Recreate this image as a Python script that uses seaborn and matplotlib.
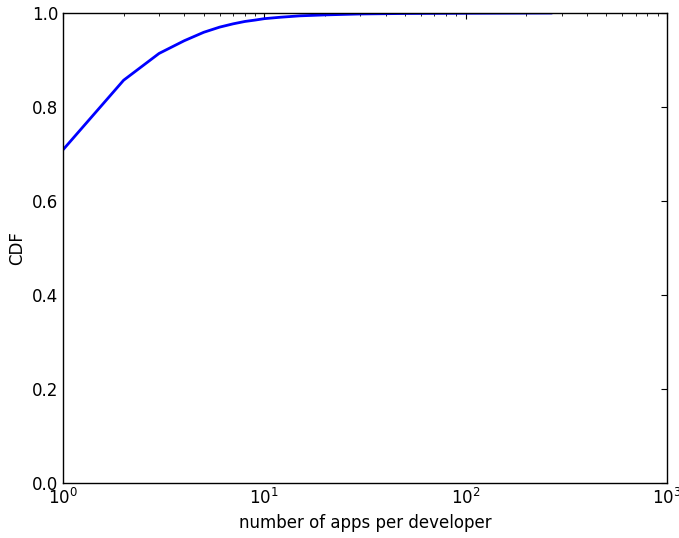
import matplotlib
matplotlib.use("Agg")
import matplotlib.pyplot as plt
import seaborn as sns
import pandas as pd
from matplotlib.ticker import LogLocator

apps = [1, 2, 3, 4, 5, 6, 7, 8, 9, 10, 12, 15, 20, 30, 50, 100, 268]
cdf = [0.709, 0.857, 0.914, 0.941, 0.959, 0.970, 0.977, 0.982, 0.985, 0.988,
       0.991, 0.994, 0.996, 0.998, 0.999, 0.9995, 1.0]
xlabel = "number of apps per developer"
ylabel = "CDF"

sns.set_style("white")
plt.rcParams['font.family'] = ['DejaVu Sans']
plt.rcParams.update({
    "xtick.direction": "in", "ytick.direction": "in",
    "xtick.top": True, "ytick.right": True,
    "xtick.major.size": 4, "ytick.major.size": 4,
    "xtick.minor.size": 2, "ytick.minor.size": 2,
    "axes.edgecolor": "black", "axes.linewidth": 1.0,
    "axes.labelcolor": "black", "text.color": "black",
    "font.size": 12,
})

df = pd.DataFrame({"apps": apps, "cdf": cdf})
fig = plt.figure(figsize=(6.79, 5.38), dpi=100)
ax = fig.add_axes([0.0928, 0.1022, 0.8895, 0.8736])
sns.lineplot(data=df, x="apps", y="cdf", ax=ax, color="blue", linewidth=2)
ax.set_xscale("log")
ax.set_xlim(1, 1000)
ax.set_ylim(0, 1.0)
ax.set_yticks([0, 0.2, 0.4, 0.6, 0.8, 1.0])
ax.xaxis.set_minor_locator(LogLocator(base=10, subs=range(2, 10)))
ax.tick_params(axis="both", which="both", direction="in", top=True, right=True,
               labelsize=12, colors="black")
ax.set_xlabel(xlabel, fontsize=12, color="black")
ax.set_ylabel(ylabel, fontsize=12, color="black")
for s in ax.spines.values():
    s.set_visible(True)
    s.set_color("black")
fig.savefig("out.png", dpi=100)
